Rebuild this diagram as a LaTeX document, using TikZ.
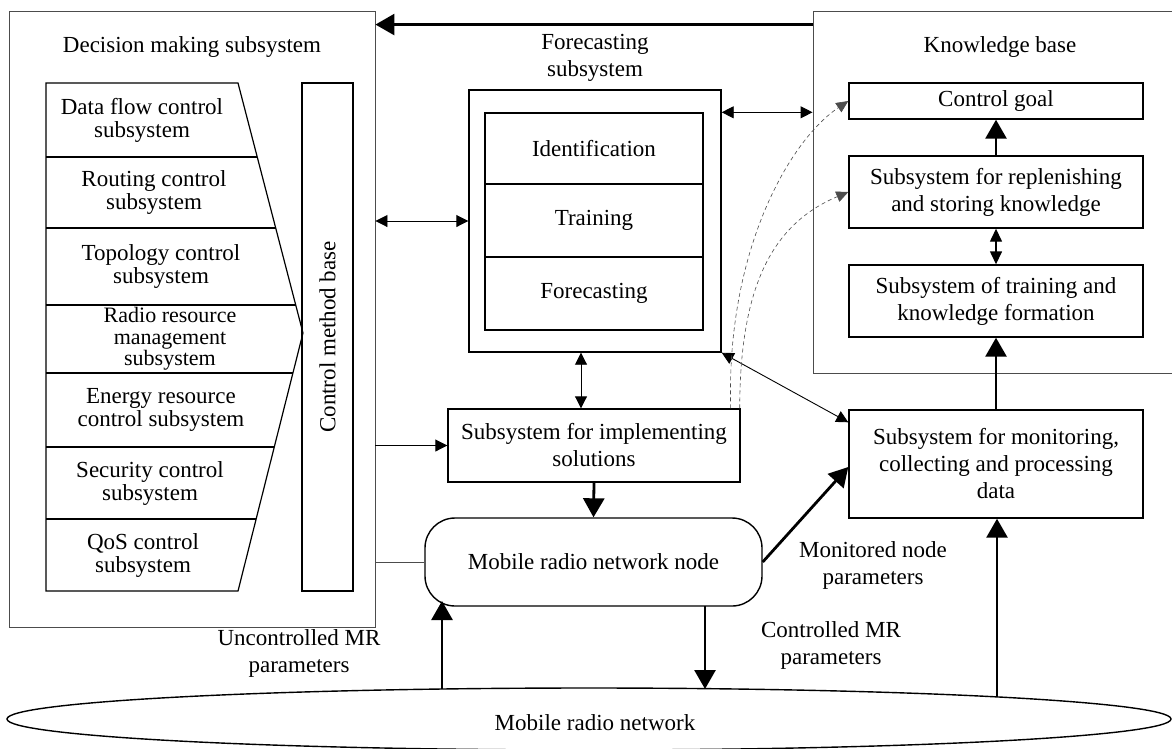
\documentclass[tikz,border=0pt]{standalone}
\usepackage{fontspec}
\setmainfont{Liberation Serif}
\usetikzlibrary{arrows.meta,calc,shapes.geometric}
\begin{document}
\begin{tikzpicture}[x=1pt,y=-1pt,
  font=\fontsize{23}{27}\selectfont,
  outer/.style={draw=black!70, line width=0.9pt, inner sep=0pt},
  box/.style={draw, line width=1.4pt, inner sep=0pt, align=center},
  lbl/.style={align=center, inner sep=0pt},
  thin/.style={line width=0.9pt},
  bold/.style={line width=2.8pt, -{Triangle[length=19pt,width=21pt]}},
  sarr/.style={line width=0.9pt, -{Triangle[length=12pt,width=12pt]}},
  darr/.style={line width=0.9pt, {Triangle[length=12pt,width=12pt]}-{Triangle[length=12pt,width=12pt]}},
  mdarr/.style={line width=1.4pt, {Triangle[length=13pt,width=12pt]}-{Triangle[length=13pt,width=12pt]}},
  dsh/.style={draw=black!70, line width=0.6pt, dash pattern=on 4pt off 3pt, -{Triangle[length=12pt,width=11pt]}}
]
\useasboundingbox (0,0) rectangle (1172,748);

% Decision making subsystem
\node[outer, minimum width=366, minimum height=616] (dec) at (192,319) {};
\node[lbl] (dect) at (192,47) {Decision making subsystem};
\draw[line width=1.2pt] (46,83) -- (238,83) -- (303,333) -- (238,591) -- (46,591) -- cycle;
\draw[line width=1.2pt] (46,157) -- (257.2,157);
\draw[line width=1.2pt] (46,228) -- (275.7,228);
\draw[line width=1.2pt] (46,305) -- (295.7,305);
\draw[line width=1.2pt] (46,373) -- (293,373);
\draw[line width=1.2pt] (46,447) -- (274.3,447);
\draw[line width=1.2pt] (46,519) -- (256.1,519);
\node[lbl, font=\fontsize{23}{23}\selectfont] (r1) at (142,120) {Data flow control\\subsystem};
\node[lbl, font=\fontsize{23}{23}\selectfont] (r2) at (154,192.5) {Routing control\\subsystem};
\node[lbl, font=\fontsize{23}{23}\selectfont] (r3) at (161,266.5) {Topology control\\subsystem};
\node[lbl, font=\fontsize{22}{21.5}\selectfont] (r4) at (170,339) {Radio resource\\management\\subsystem};
\node[lbl, font=\fontsize{23}{23}\selectfont] (r5) at (161,410) {Energy resource\\control subsystem};
\node[lbl, font=\fontsize{23}{23}\selectfont] (r6) at (150,483) {Security control\\subsystem};
\node[lbl, font=\fontsize{23}{23}\selectfont] (r7) at (143,555) {QoS control\\subsystem};
\node[box, minimum width=51, minimum height=508] (cmb) at (327.5,337) {};
\node[lbl, rotate=90] (cmbt) at (cmb.center) {Control method base};

% Forecasting subsystem
\node[lbl] (fot) at (595,58) {Forecasting\\subsystem};
\node[box, minimum width=252, minimum height=262] (fo) at (595,221) {};
\node[box, minimum width=218, minimum height=71] (id) at (594,148.5) {Identification};
\node[box, minimum width=218, minimum height=73] (tr) at (594,220.5) {Training};
\node[box, minimum width=218, minimum height=73] (fc) at (594,293.5) {Forecasting};

% Knowledge base
\node[outer, minimum width=361, minimum height=362] (kb) at (993.5,192) {};
\node[lbl] (kbt) at (1000,47) {Knowledge base};
\node[box, minimum width=294, minimum height=36] (cg) at (996,101) {Control goal};
\node[box, minimum width=294, minimum height=72] (rep) at (996,192) {Subsystem for replenishing\\and storing knowledge};
\node[box, minimum width=294, minimum height=72] (tkf) at (996,301) {Subsystem of training and\\knowledge formation};
\node[box, minimum width=294, minimum height=108] (mon) at (996,464) {Subsystem for monitoring,\\collecting and processing\\data};

% Implementing and node
\node[box, minimum width=292, minimum height=73] (impl) at (594,445.5) {Subsystem for implementing\\solutions};
\node[box, rounded corners=30pt, minimum width=337, minimum height=88] (mrn) at (593.5,562) {Mobile radio network node};
\node[ellipse, draw, line width=1.4pt, inner sep=0pt, minimum width=1164, minimum height=62] (net) at (589,719) {};
\node[lbl] (nett) at (595,723) {Mobile radio network};

% labels
\node[lbl] (l1) at (299,653) {Uncontrolled MR\\parameters};
\node[lbl] (l2) at (831,645) {Controlled MR\\parameters};
\node[lbl] (l3) at (873,565) {Monitored node\\parameters};

% connectors
\draw[bold] ([yshift=-14pt]kb.north west) -- ([yshift=-14pt]dec.north east);
\draw[darr] (fo.west -| dec.east) -- (fo.west);
\draw[darr] ([yshift=-23pt]fo.north east) -- ([yshift=-23pt]fo.north east -| kb.west);
\draw[darr] ([xshift=-14pt]fo.south) -- ([xshift=-14pt]fo.south |- impl.north);
\draw[sarr] (impl.west -| dec.east) -- (impl.west);
\draw[thin, draw=black!70] (mrn.west -| dec.east) -- (mrn.west);
\draw[bold] (impl.south) -- (mrn.north);
\draw[bold] (mrn.east) -- ([yshift=-3pt]mon.west);
\draw[darr] (fo.south east) -- ([yshift=-13pt]mon.north west);
\draw[bold] (mon.north) -- (tkf.south);
\draw[bold] (rep.north) -- (cg.south);
\draw[mdarr] (rep.south) -- (tkf.north);

\coordinate (u0) at (442,689);
\coordinate (u1) at (442,601);
\draw[bold] (u0) -- (u1);
\coordinate (d0) at (705,606);
\coordinate (d1) at (705,689);
\draw[bold] (d0) -- (d1);
\coordinate (m0) at (997,696);
\draw[bold] (m0) -- (m0 |- mon.south);

\draw[dsh] ([xshift=-10pt]impl.north east) .. controls (726,250) and (790,140) .. (cg.west);
\draw[dsh] ([xshift=-1pt]impl.north east) .. controls (740,290) and (770,225) .. (rep.west);
\end{tikzpicture}
\end{document}
